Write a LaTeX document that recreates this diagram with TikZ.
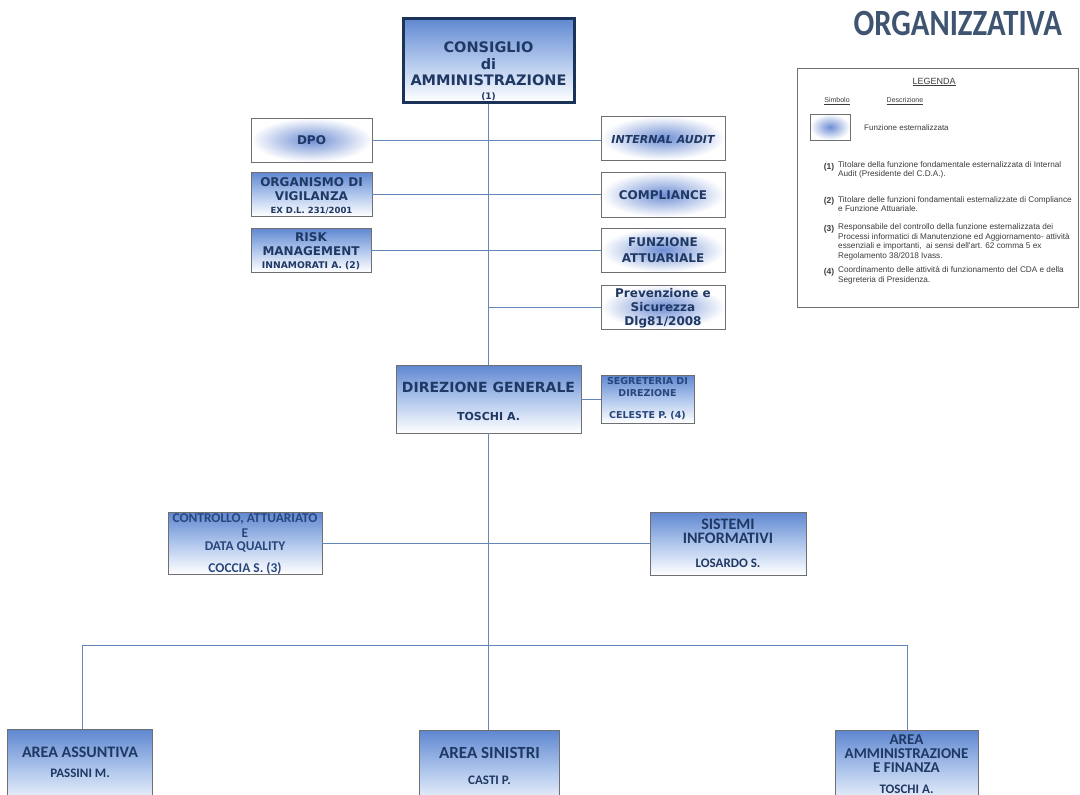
\documentclass[tikz,border=0pt]{standalone}
\usepackage{fontspec}
\setmainfont{DejaVu Sans}
\newfontfamily\calfont{Carlito}
\newfontfamily\arifont{Liberation Sans}
\newcommand\fs[2]{\fontsize{#1}{#2}\selectfont}
\definecolor{navy}{RGB}{31,56,100}
\definecolor{cdaborder}{RGB}{27,51,88}
\definecolor{boxgray}{RGB}{110,110,115}
\definecolor{gradtop}{RGB}{95,135,208}
\definecolor{gradmid}{RGB}{175,198,236}
\definecolor{glow}{RGB}{110,142,212}
\definecolor{linecol}{RGB}{100,135,185}
\definecolor{titlecol}{RGB}{62,84,112}
\definecolor{legtext}{RGB}{60,60,60}
\definecolor{ctrlblue}{RGB}{40,70,125}
\begin{document}
\begin{tikzpicture}[x=1pt,y=-1pt,
  box/.style={draw=boxgray, line width=0.8pt, inner sep=0pt, minimum width=#1},
  grad/.style={box=#1, top color=gradtop, bottom color=white, middle color=gradmid},
  ext/.style={box=#1, inner color=glow, outer color=white},
  txt/.style={inner sep=0pt, align=center, text=navy, font=\bfseries#1},
  ctxt/.style={inner sep=0pt, align=center, text=navy, font=\calfont\bfseries#1},
  conn/.style={draw=linecol, line width=0.9pt},
  leg/.style={inner sep=0pt, text=legtext, font=\arifont},
  note/.style={inner sep=0pt, text=legtext, anchor=north west, align=left, font=\arifont\fs{8.2}{9.6}},
  num/.style={inner sep=0pt, text=legtext, font=\arifont\bfseries\fs{8.5}{9}}
]
\clip (0,0) rectangle (1080,795);
\fill[white] (0,0) rectangle (1080,795);

% title
\node[inner sep=0pt, anchor=east, text=titlecol, font=\calfont\bfseries\fs{37}{40}, xscale=0.83] (title) at (1062,23) {ORGANIZZATIVA};

% board
\node[draw=cdaborder, line width=3pt, inner sep=0pt, minimum width=171pt, minimum height=84pt, top color=gradtop, bottom color=white, middle color=gradmid] (cda) at (488.5,60) {};
\node[txt=\fs{14.5}{16.5}] (cdat) at (488.5,71) {CONSIGLIO\\di\\AMMINISTRAZIONE\\[-3pt]{\fs{9}{11}(1)}};

% staff boxes
\node[ext=121pt, minimum height=44pt] (dpo) at (311.5,140) {};
\node[txt=\fs{12}{14}] (dpot) at (311.5,140) {DPO};
\node[ext=124pt, minimum height=44pt] (ia) at (663,138) {};
\node[txt=\fs{11}{13}\itshape] (iat) at (663,139.5) {INTERNAL AUDIT};
\node[grad=121pt, minimum height=44pt] (odv) at (311.5,194) {};
\node[txt=\fs{12}{14}] (odvt) at (311.5,195.5) {ORGANISMO DI\\VIGILANZA\\[-1pt]{\fs{8.5}{9}EX D.L. 231/2001}};
\node[ext=124pt, minimum height=45pt] (cmp) at (663,194.5) {};
\node[txt=\fs{12}{14}] (cmpt) at (663,195) {COMPLIANCE};
\node[grad=120pt, minimum height=44pt] (rm) at (311,250) {};
\node[txt=\fs{12}{14}] (rmt) at (311,251.5) {RISK\\MANAGEMENT\\[-1pt]{\fs{9.2}{10}INNAMORATI A. (2)}};
\node[ext=124pt, minimum height=44pt] (fa) at (663,250) {};
\node[txt=\fs{12}{15}] (fat) at (663,250.5) {FUNZIONE\\[1pt]ATTUARIALE};
\node[ext=124pt, minimum height=44pt] (prev) at (663,307) {};
\node[txt=\fs{12}{14}] (prevt) at (663,308.5) {Prevenzione e\\Sicurezza\\Dlg81/2008};

% direzione
\node[grad=185pt, minimum height=68pt] (dg) at (488.5,399) {};
\node[txt=\fs{14}{16}] (dgt) at (488.5,401) {DIREZIONE GENERALE\\[12pt]{\fs{11}{13}TOSCHI A.}};
\node[grad=93pt, minimum height=48pt] (seg) at (647.5,399) {};
\node[txt=\fs{9.5}{12}, text=ctrlblue] (segt) at (647.5,399) {SEGRETERIA DI\\DIREZIONE\\[10pt]CELESTE P. (4)};

\node[grad=154pt, minimum height=62pt] (ctrl) at (245,543) {};
\node[ctxt=\fs{13.4}{12.5}, text=ctrlblue] (ctrlt) at (245,544) {CONTROLLO, ATTUARIATO\\[2.5pt]E\\[1pt]DATA QUALITY\\[9pt]COCCIA S. (3)};
\node[grad=156pt, minimum height=63pt] (sis) at (728,543.5) {};
\node[ctxt=\fs{16}{14}] (sist) at (728,543.5) {SISTEMI\\INFORMATIVI\\[10pt]{\fs{13}{14}LOSARDO S.}};

% areas
\node[grad=145pt, minimum height=80pt, anchor=north] (aa) at (79.5,729) {};
\node[ctxt=\fs{16}{20}] (aat) at (80,762) {AREA ASSUNTIVA\\{\fs{13}{20}PASSINI M.}};
\node[grad=140pt, minimum height=80pt, anchor=north] (as) at (489,730) {};
\node[ctxt=\fs{17}{26}] (ast) at (489.5,766) {AREA SINISTRI\\{\fs{13}{26}CASTI P.}};
\node[grad=143pt, minimum height=80pt, anchor=north] (aaf) at (906.5,730) {};
\node[ctxt=\fs{15}{14}] (aaft) at (906.5,764.5) {AREA\\AMMINISTRAZIONE\\E FINANZA\\[7pt]{\fs{13}{14}TOSCHI A.}};

% connectors
\draw[conn] (cda.south) -- (dg.north);
\draw[conn] (dpo.east) -- (dpo.east -| ia.west);
\draw[conn] (odv.east) -- (odv.east -| cmp.west);
\draw[conn] (rm.east) -- (rm.east -| fa.west);
\draw[conn] (prev.west) -- (prev.west -| cda.south);
\draw[conn] (dg.east |- seg.west) -- (seg.west);
\coordinate (bus) at (488.5,645);
\coordinate (busL) at (82,645);
\coordinate (busR) at (907,645);
\draw[conn] (dg.south) -- (bus);
\draw[conn] (ctrl.east) -- (ctrl.east -| sis.west);
\draw[conn] (busL |- aa.north) -- (busL) -- (busR) -- (busR |- aaf.north);
\draw[conn] (bus) -- (bus |- as.north);

% legend
\node[draw=boxgray, line width=0.8pt, inner sep=0pt, minimum width=281pt, minimum height=239pt, anchor=north west] (legend) at (797,68) {};
\node[leg, font=\arifont\fs{9}{10}] (legt) at (934,82) {\underline{LEGENDA}};
\node[leg, font=\arifont\fs{7}{8}] (legs) at (837,101) {\underline{Simbolo}};
\node[leg, font=\arifont\fs{7}{8}] (legd) at (905,101) {\underline{Descrizione}};
\node[ext=40pt, minimum height=26pt] (legbox) at (830,127) {};
\node[leg, anchor=west, font=\arifont\fs{8}{9}] (legf) at (864,128) {Funzione esternalizzata};
\node[num] (n1) at (829,167) {(1)};
\node[note] (n1t) at (838,161) {Titolare della funzione fondamentale esternalizzata di Internal\\Audit (Presidente del C.D.A.).};
\node[num] (n2) at (829,201) {(2)};
\node[note] (n2t) at (838,196) {Titolare delle funzioni fondamentali esternalizzate di Compliance\\e Funzione Attuariale.};
\node[num] (n3) at (829,229) {(3)};
\node[note] (n3t) at (838,223.5) {Responsabile del controllo della funzione esternalizzata dei\\Processi informatici di Manutenzione ed Aggiornamento- attività\\essenziali e importanti,\ \ ai sensi dell'art. 62 comma 5 ex\\Regolamento 38/2018 Ivass.};
\node[num] (n4) at (829,272) {(4)};
\node[note] (n4t) at (838,266.5) {Coordinamento delle attività di funzionamento del CDA e della\\Segreteria di Presidenza.};
\end{tikzpicture}
\end{document}
